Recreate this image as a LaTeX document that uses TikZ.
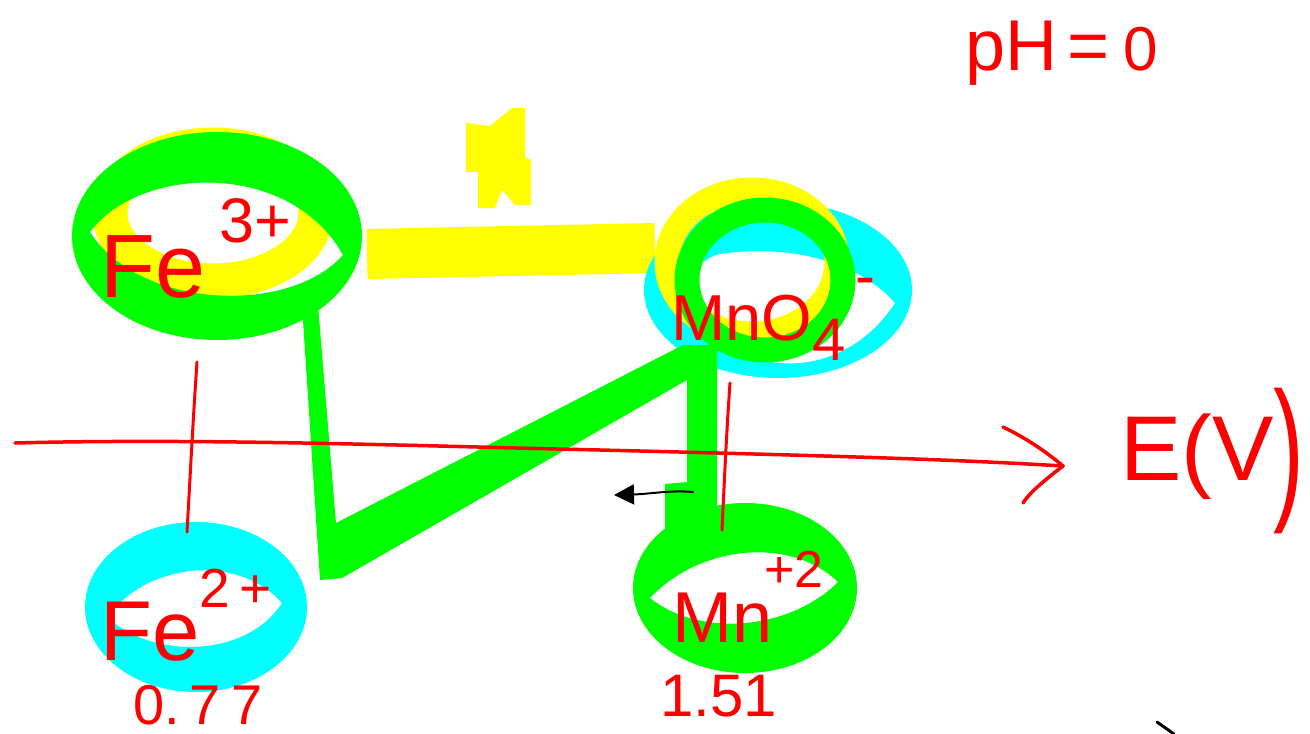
\documentclass[tikz,border=0pt]{standalone}
\usepackage{fontspec}
\setmainfont{Liberation Sans}
\usepackage{graphicx}
\usetikzlibrary{arrows.meta}
\definecolor{hlgreen}{RGB}{0,255,0}
\definecolor{hlyellow}{RGB}{255,255,0}
\definecolor{hlcyan}{RGB}{0,255,255}
\definecolor{penred}{RGB}{255,0,0}
\newcommand{\myfs}[1]{\fontsize{#1}{#1}\selectfont}
\tikzset{
  lbl/.style={text=penred, inner sep=0pt, anchor=base west},
  redpen/.style={draw=penred, line width=3.5pt, line cap=round, line join=round},
  blackpen/.style={draw=black, line width=2pt, line cap=round},
  ringfill/.style={even odd rule},
}
\begin{document}
\begin{tikzpicture}[x=1pt,y=-1pt]
\useasboundingbox (0,0) rectangle (1310,734);
\fill[white] (0,0) rectangle (1310,734);

% named anchor points
\coordinate (fe3c) at (217,236);
\coordinate (mno4c) at (778,290);
\coordinate (fe2c) at (196,607);
\coordinate (mn2c) at (745,588);
\coordinate (fe3bot) at (197,362);
\coordinate (fe2top) at (187,532);
\coordinate (mno4bot) at (730,383);
\coordinate (mn2top) at (722,530);
\coordinate (axstart) at (15,443);
\coordinate (axtip) at (1063,466);
\coordinate (arrtail) at (693,492);
\coordinate (arrhead) at (614,495);

% yellow highlighter
\draw[hlyellow, line width=35pt] (213,213) ellipse [x radius=103, y radius=68];
\draw[hlyellow, line width=50pt] (367,254) -- (655,248);
\fill[hlyellow] (466,123) -- (490,126) -- (512,108) -- (525,108) -- (525,157) -- (531,160)
  -- (531,205) -- (515,205) -- (502,190) -- (495,208) -- (478,208) -- (478,172) -- (466,172) -- cycle;

% Fe3+ green ring
\fill[hlgreen, ringfill] (fe3c) ellipse [x radius=145, y radius=104]
  (90,232) .. controls (140,165) and (290,160) .. (343,255) .. controls (290,315) and (140,310) .. (90,232) -- cycle;

% MnO4- rings
\fill[hlcyan, ringfill] (mno4c) ellipse [x radius=134, y radius=88]
  (662,273) .. controls (720,240) and (840,240) .. (895,303) .. controls (840,388) and (720,388) .. (662,273) -- cycle;
\draw[hlyellow, line width=25pt] (752,262) ellipse [x radius=85, y radius=72];
\fill[hlcyan] (703,262) .. controls (715,205) and (810,205) .. (822,255)
  .. controls (790,240) and (735,240) .. (703,262) -- cycle;
\draw[hlgreen, line width=25pt] (765,280) ellipse [x radius=78, y radius=70];

% Fe2+ cyan ring
\fill[hlcyan, ringfill] (fe2c) ellipse [x radius=111, y radius=85]
  (107,617) .. controls (150,560) and (240,555) .. (282,603) .. controls (245,660) and (150,658) .. (107,617) -- cycle;

% Mn2+ green ring
\fill[hlgreen, ringfill] (mn2c) ellipse [x radius=112, y radius=85]
  (650,598) .. controls (700,545) and (790,536) .. (838,582) .. controls (790,630) and (700,638) .. (650,598) -- cycle;

% green path
\fill[hlgreen] (302,305) -- (320,580) -- (342,578) -- (687,380) -- (687,482) -- (665,484) -- (665,530)
  -- (717,530) -- (717,345) -- (683,345) -- (336,523) -- (318,305) -- cycle;

% red axis and arrowhead
\draw[redpen] (axstart) .. controls (200,438) and (420,446) .. (600,450) .. controls (800,455) and (950,459) .. (axtip);
\draw[redpen] (1003,427) .. controls (1030,440) and (1050,455) .. (axtip) .. controls (1045,480) and (1030,492) .. (1023,503);

% red vertical links
\draw[redpen, line width=3pt] (fe3bot) .. controls (193,420) and (190,480) .. (fe2top);
\draw[redpen, line width=3pt] (mno4bot) .. controls (726,440) and (724,490) .. (mn2top);

% black arrow
\draw[blackpen, -{Triangle[length=20pt,width=20pt]}] (arrtail) .. controls (670,490) and (650,494) .. (arrhead);
\coordinate (tick1) at (1157,722);
\coordinate (tick2) at (1174,734);
\draw[blackpen, line width=3pt] (tick1) -- (tick2);

% labels
\node[lbl] (fe3lbl) at (100,297) {\myfs{90}Fe\hspace{14pt}\raisebox{55pt}{\myfs{63}3+}};
\node[lbl] (fe2lbl) at (100,660) {\myfs{85}Fe\raisebox{53pt}{\myfs{55}2\hspace{10pt}+}};
\node[lbl] (mno4lbl) at (671,340) {\myfs{65}MnO\raisebox{-20pt}{\myfs{60}4}\hspace{10pt}\raisebox{44pt}{\myfs{60}-}};
\node[lbl] (mn2lbl) at (672,642) {\myfs{72}Mn\hspace{-8pt}\raisebox{55pt}{\myfs{52}+2}};
\node[lbl] (v077) at (133,724) {\myfs{56}0.\hspace{10pt}7\hspace{10pt}7};
\node[lbl] (v151) at (660,716) {\myfs{60}1.51};
\node[lbl] (ph) at (965,70) {\myfs{72}pH\hspace{10pt}=\hspace{14pt}\myfs{62}0};
\node[lbl] (ev) at (1120,480) {\myfs{92}E(V\raisebox{-21pt}{\scalebox{1}[1.7]{)}}};
\end{tikzpicture}
\end{document}
